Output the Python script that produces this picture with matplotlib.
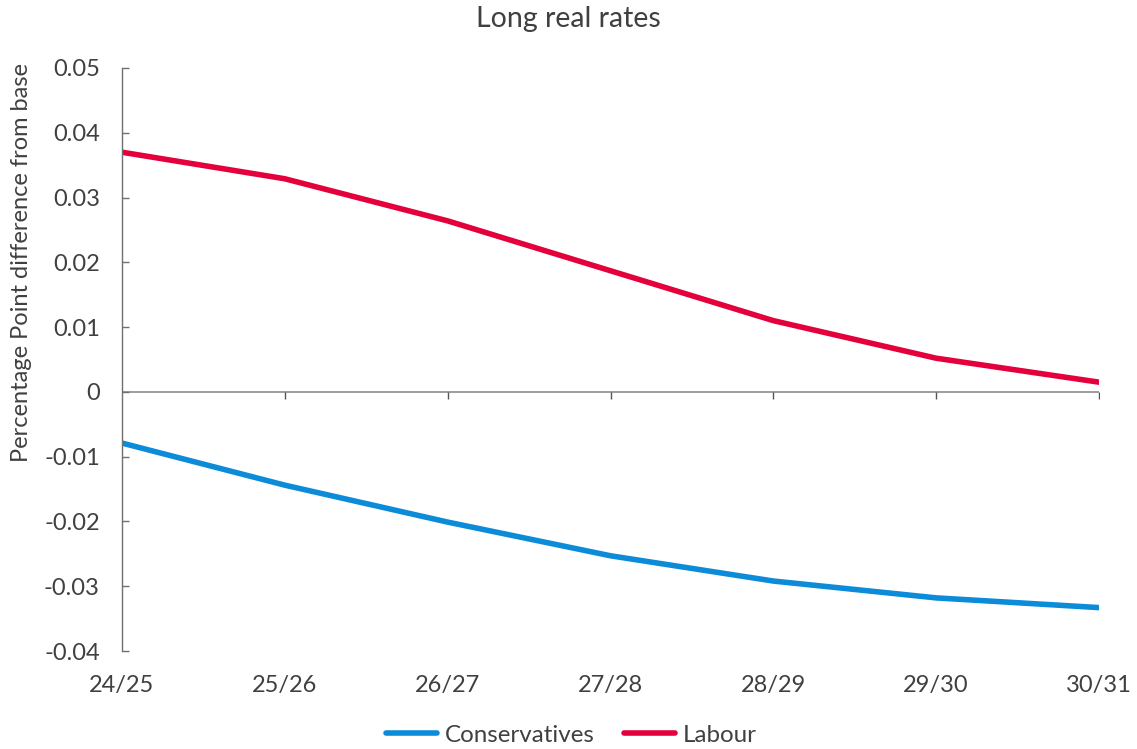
import matplotlib.pyplot as plt
import matplotlib.markers as mk

plt.rcParams['font.family'] = ['Lato', 'DejaVu Sans']

years = ['24/25', '25/26', '26/27', '27/28', '28/29', '29/30', '30/31']
labour = [0.0370, 0.0329, 0.0264, 0.0187, 0.0110, 0.0052, 0.0015]
conservatives = [-0.0079, -0.0144, -0.0201, -0.0253, -0.0292, -0.0318, -0.0333]

text_col = '#404040'
blue = '#0b8bd8'
red = '#e4003b'

fig = plt.figure(figsize=(11.37, 7.49), dpi=100)
ax = fig.add_axes([122/1137, 1 - 651/749, (1099 - 122)/1137, (651 - 68)/749])

x = list(range(len(years)))
ax.plot(x, conservatives, color=blue, lw=4, solid_capstyle='round', label='Conservatives')
ax.plot(x, labour, color=red, lw=4, solid_capstyle='round', label='Labour')

ax.set_xlim(0, len(years) - 1)
ax.set_ylim(-0.04, 0.05)
ax.set_yticks([i / 100 for i in range(-4, 6)])
ax.set_yticklabels(['-0.04', '-0.03', '-0.02', '-0.01', '0', '0.01', '0.02', '0.03', '0.04', '0.05'])
ax.set_xticks(x)
ax.set_xticklabels(years)

for s in ['top', 'right', 'bottom']:
    ax.spines[s].set_visible(False)
ax.spines['left'].set_color('#707070')
ax.spines['left'].set_linewidth(1)

# zero line with category tick marks
ax.axhline(0, color='#8c8c8c', lw=1.2, zorder=1)
ax.plot(x[1:], [0] * (len(x) - 1), ls='none', marker=mk.TICKDOWN, ms=5, mew=1,
        color='#555555', zorder=1)

ax.tick_params(axis='y', direction='in', length=5, width=1, color='#707070',
               labelsize=17, labelcolor=text_col, pad=16)
ax.tick_params(axis='x', length=0, labelsize=17, labelcolor=text_col, pad=17)

fig.text(22/1137, 1 - 262/749, 'Percentage Point difference from base', rotation=90,
         fontsize=17, color=text_col, ha='center', va='center')
fig.text(0.5, 1 - 19/749, 'Long real rates', fontsize=20.5, color=text_col,
         ha='center', va='center')

fig.legend(loc='center', bbox_to_anchor=(0.5 + 3/1137, 1 - 735/749), ncol=2, frameon=False,
           fontsize=17.4, labelcolor=text_col, handlelength=2.1, handletextpad=0.35,
           columnspacing=1.2)

fig.savefig('out.png', dpi=100)
